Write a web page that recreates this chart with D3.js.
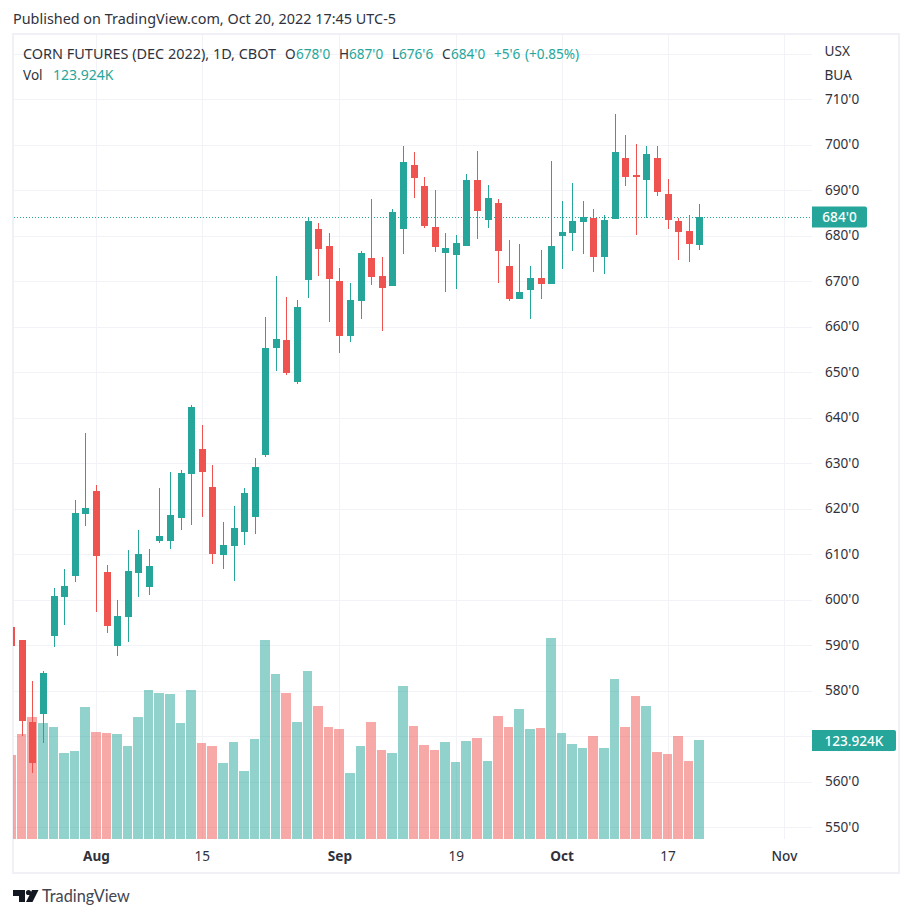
<!DOCTYPE html>
<html><head><meta charset="utf-8">
<script src="https://cdn.jsdelivr.net/npm/d3@7"></script>
<style>
html,body{margin:0;padding:0;background:#fff}
svg{display:block}
text{font-family:"Noto Sans",sans-serif;font-size:13.6px;fill:#2f323c}
</style></head><body>
<svg id="c" width="912" height="918"></svg>
<script>
// One candle before the first full session, clipped by the chart edge, comes first.
const opens=[594,591.1,573.1,574.8,592,600.6,605.2,618.8,623.9,606,589.8,596.2,605.8,602.8,612.9,612.9,617.9,627.6,633.1,624.7,609.8,611.8,614.8,618.1,631.8,655.3,657,647.8,670.2,681.4,677.7,670,657.9,665.6,675.1,671.1,668.9,681.4,695.5,690.9,681.9,676.2,675.7,677.7,692.2,683.4,687.1,673.3,666,668,670.7,669.3,679.9,680.6,683,683.9,675.3,683.6,697,693.3,692.2,697,689.1,683.2,681,678];
const highs=[594,591.1,582.1,584.3,602.5,606.7,621.9,636.6,625.2,607.6,599.9,610.9,615.3,611.1,624.5,628,628.5,642.8,638.4,629.6,617,620.6,624.5,631.1,662.1,671.1,666.5,665.8,683.9,682.8,680.6,672.9,669.6,676.6,688,675.3,685.8,699.7,698.4,692.9,690,680.6,680.1,693.5,698.6,691.1,688,679,678.1,673.3,676.8,696.4,687.6,691.5,687.6,685.8,684.5,706.7,702.1,700.1,699.7,699.7,692.4,683.9,684.5,687];
const lows=[589.8,570.1,561.9,568.5,589.6,594.4,603.9,616.2,597.3,592.6,587.6,590.7,600.6,601,612.4,611.1,615.3,616.4,618.1,607.8,606.7,604.1,612,614.4,631.3,650.2,649.3,647.4,666.3,671.1,661,654.2,656.6,661.7,669.1,659,668.9,675.9,688.2,681.6,676.4,667.6,668.2,677.7,679.2,681.6,669.6,665.6,666,661.7,666,669.3,672.6,676.6,675.9,672,671.5,683.6,690.9,680.1,683.9,688.7,681.4,674.6,674.2,676.75];
const closes=[589.8,573.4,564.1,583.9,600.8,603,619,620.1,609.6,594.2,596.4,606.3,610,607.4,614,618.6,627.8,642.3,628,610,612,615.7,623.4,629.1,655.3,657.3,649.8,664.3,683.2,677,670.4,657.9,665.8,676.2,670.9,668.5,685.2,696.2,692.6,682.1,677.5,677.3,678.4,692.2,685.4,688.2,676.6,666,667.6,670.7,669.3,677.7,680.8,683.2,684.1,675.3,683.4,698.4,692.9,692.9,697.9,689.6,683.4,680.8,678.1,684];
const volumes=[105.2,131.4,152.7,145.2,140.2,107.7,110.2,165.2,133.9,132.7,131.4,116.4,152.7,186.5,182.8,181.5,145.2,186.5,120.2,116.4,95.1,121.4,85.1,125.2,249.1,206.6,182.8,146.5,210.3,166.5,140.2,137.7,82.6,116.4,146.5,111.4,107.7,191.5,141.5,117.7,111.4,121.4,96.4,122.7,126.4,97.6,154,140.2,162.7,137.7,139,251.6,132.7,118.9,113.9,128.9,113.9,200.3,140.2,179,166.5,108.9,106.4,128.9,97.6,123.924];
// Bar index (0 = the clipped candle) at which each date label sits.
const xTickIndex=[8,18,31,42,52,62,73];
const xTickLabels=["Aug","15","Sep","19","Oct","17","Nov"];
const xTickBold=["Aug","Sep","Oct"];
const priceGrid=[720,710,700,690,680,670,660,650,640,630,620,610,600,590,580,570,560,550];
// 570'0 is covered by the volume tag in the chart, so it carries no label.
const priceTicks=[710,700,690,680,670,660,650,640,630,620,610,600,590,580,560,550];
const lastPrice=684;
const lastVolume=123.924;

const UP="#26a69a",DOWN="#ef5350",GRID="#f2f3f7",BORDER="#f0f0f6",TEXT="#2f323c";
const svg=d3.select("#c");
const x=d3.scaleLinear().domain([1,65]).range([22.4,22.4+64*10.584]);
const y=d3.scaleLinear().domain([550,710]).range([827,99]);
const yVol=d3.scaleLinear().domain([0,250]).range([839,839-199.7]);
const fx=i=>Math.floor(x(i));
const data=opens.map((o,i)=>({i,o,h:highs[i],l:lows[i],c:closes[i],v:volumes[i],up:closes[i]>=o}));

svg.append("defs").append("clipPath").attr("id","pane").append("rect")
  .attr("x",13).attr("y",35).attr("width",799).attr("height",804);

// frame
svg.append("rect").attr("x",13).attr("y",34).attr("width",886).attr("height",839)
  .attr("fill","none").attr("stroke",BORDER).attr("stroke-width",2);

// grid
svg.append("g").selectAll("line").data(priceGrid).join("line")
  .attr("x1",14).attr("x2",812)
  .attr("y1",d=>Math.round(y(d))+.5).attr("y2",d=>Math.round(y(d))+.5)
  .attr("stroke",GRID);
svg.append("g").selectAll("line").data(xTickIndex).join("line")
  .attr("x1",d=>fx(d)+.5).attr("x2",d=>fx(d)+.5).attr("y1",35).attr("y2",839)
  .attr("stroke",GRID);

const pane=svg.append("g").attr("clip-path","url(#pane)");
// volume
pane.append("g").selectAll("rect").data(data).join("rect")
  .attr("x",d=>fx(d.i)-5)
  .attr("width",d=>fx(d.i+1)-fx(d.i)-1)
  .attr("y",d=>Math.round(yVol(d.v)))
  .attr("height",d=>839-Math.round(yVol(d.v)))
  .attr("fill",d=>d.up?UP:DOWN).attr("fill-opacity",.5);
// last price line
pane.append("line").attr("x1",14).attr("x2",812)
  .attr("y1",Math.round(y(lastPrice))+.5).attr("y2",Math.round(y(lastPrice))+.5)
  .attr("stroke",UP).attr("stroke-dasharray","1 2");
// candles
const candles=pane.append("g").selectAll("g").data(data).join("g").attr("fill",d=>d.up?UP:DOWN);
candles.append("rect").attr("x",d=>fx(d.i)).attr("width",1)
  .attr("y",d=>Math.round(y(d.h))).attr("height",d=>Math.max(1,Math.round(y(d.l))-Math.round(y(d.h))));
candles.append("rect").attr("x",d=>fx(d.i)-3).attr("width",7)
  .attr("y",d=>Math.round(y(Math.max(d.o,d.c))))
  .attr("height",d=>Math.max(2,Math.round(y(Math.min(d.o,d.c)))-Math.round(y(Math.max(d.o,d.c)))));

// price axis
const yAxis=svg.append("g").attr("transform","translate(812,0)")
  .call(d3.axisRight(y).tickValues(priceTicks).tickSize(0).tickPadding(13).tickFormat(d=>d+"'0"));
yAxis.select(".domain").remove();
yAxis.selectAll("text").style("font-family",'"Noto Sans",sans-serif').style("font-size","13.6px").attr("fill",TEXT);

// time axis
const xAxis=svg.append("g").attr("transform","translate(-0.5,851)")
  .call(d3.axisBottom(x).tickValues(xTickIndex).tickSize(0).tickPadding(0)
    .tickFormat((d,i)=>xTickLabels[i]));
xAxis.select(".domain").remove();
xAxis.selectAll("text").style("font-family",'"Noto Sans",sans-serif').style("font-size","13.6px")
  .attr("fill",TEXT)
  .style("font-weight",(d,i)=>xTickBold.includes(xTickLabels[i])?700:(xTickLabels[i]==="Nov"?500:400));

// unit labels
[["USX",50.5],["BUA",75]].forEach(([t,py])=>svg.append("text").attr("x",824.5).attr("y",py+5).text(t));

// value tags
function tag(label,py,w){
  const h=21,px=812,r=2;
  svg.append("path").attr("fill",UP)
    .attr("d",`M${px},${py-h/2}H${px+w-r}a${r},${r} 0 0 1 ${r},${r}V${py+h/2-r}a${r},${r} 0 0 1 ${-r},${r}H${px}Z`);
  svg.append("text").attr("x",px+w/2).attr("y",py+5).attr("text-anchor","middle")
    .style("fill","#fff").style("font-weight",500).text(label);
}
tag("684'0",Math.round(y(lastPrice)),55);
tag(lastVolume+"K",Math.round(yVol(lastVolume))+.5,84);

// publication line
svg.append("text").attr("x",13).attr("y",24).style("font-size","14.4px").text("Published on TradingView.com, Oct 20, 2022 17:45 UTC-5");

// legend
const leg=[["O",285,TEXT],["678'0",296,UP],["H",339,TEXT],["687'0",349,UP],["L",392,TEXT],["676'6",399,UP],["C",442,TEXT],["684'0",451,UP],["+5'6",494,UP],["(+0.85%)",525,UP]];
svg.append("text").attr("x",23).attr("y",59).style("font-size","14.45px").text("CORN FUTURES (DEC 2022), 1D, CBOT");
leg.forEach(([t,px,col])=>svg.append("text").attr("x",px).attr("y",59).style("fill",col).text(t));
svg.append("text").attr("x",23).attr("y",80).text("Vol");
svg.append("text").attr("x",53).attr("y",80).style("fill",UP).style("font-size","14px").text(lastVolume+"K");

// brand
const brand=svg.append("g").attr("fill","#131722");
brand.append("path").attr("d","M13,890H25V902H19V896H13Z");
brand.append("circle").attr("cx",28.5).attr("cy",892.5).attr("r",2.6);
brand.append("path").attr("d","M32,890H38.5L32.5,902H26Z");
svg.append("text").attr("x",42).attr("y",902).style("font-family","Lato,sans-serif").style("font-size","16.3px").style("fill","#434651").text("TradingView");
</script>
</body></html>
